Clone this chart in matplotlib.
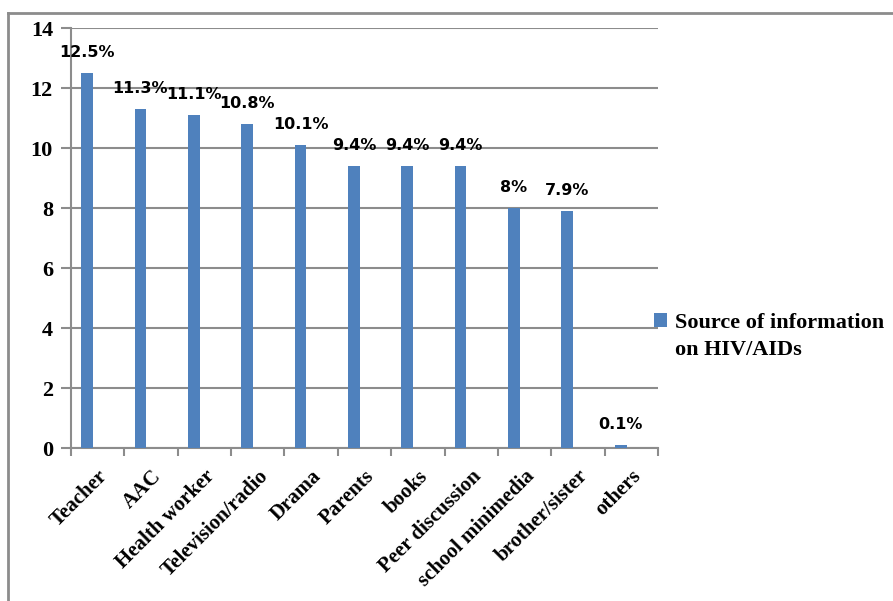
import matplotlib.pyplot as plt
from matplotlib.lines import Line2D
import numpy as np

categorias = ['Teacher', 'AAC', 'Health worker', 'Television/radio', 'Drama',
              'Parents', 'books', 'Peer discussion', 'school minimedia',
              'brother/sister', 'others']
valores = [12.5, 11.3, 11.1, 10.8, 10.1, 9.4, 9.4, 9.4, 8.0, 7.9, 0.1]
etiquetas = ['12.5%', '11.3%', '11.1%', '10.8%', '10.1%', '9.4%', '9.4%',
             '9.4%', '8%', '7.9%', '0.1%']
serie = ['Source of information', 'on HIV/AIDs']

azul = '#4f81bd'
gris = '#8c8c8c'
serif = 'Liberation Serif'

fig = plt.figure(figsize=(8.93, 6.01), dpi=100)
ax = fig.add_axes([71/893, 1 - 448/601, 587/893, 420/601])

x = np.arange(len(categorias))
ax.bar(x - 0.2, valores, width=0.22, color=azul, label=serie[0], zorder=3)

for xi, v, t in zip(x, valores, etiquetas):
    ax.annotate(t, (xi - 0.2, v), xytext=(0, 15), textcoords='offset points',
                ha='center', va='center', fontsize=11.5, fontweight='bold',
                family='DejaVu Sans')

ax.set_xlim(-0.5, len(categorias) - 0.5)
ax.set_ylim(0, 14)
ax.set_yticks(np.arange(0, 15, 2))
ax.yaxis.grid(True, color=gris, linewidth=1.5, zorder=0)
ax.set_axisbelow(True)

# ticks at category boundaries, labels at centers
ax.set_xticks(np.arange(-0.5, len(categorias), 1))
ax.set_xticklabels([])
ax.set_xticks(x, minor=True)
ax.set_xticklabels(categorias, minor=True, rotation=45, ha='right',
                   va='top', rotation_mode='anchor', fontsize=15,
                   fontweight='bold', family=serif)
ax.tick_params(axis='x', which='minor', length=0, pad=13)
ax.tick_params(axis='x', which='major', length=6, width=1.5, color=gris)
ax.tick_params(axis='y', length=7, width=1.5, color=gris, pad=6)
for lbl in ax.get_yticklabels():
    lbl.set_fontsize(16)
    lbl.set_fontweight('bold')
    lbl.set_family(serif)

for s in ['top', 'right']:
    ax.spines[s].set_visible(False)
for s in ['left', 'bottom']:
    ax.spines[s].set_color(gris)
    ax.spines[s].set_linewidth(1.5)

# legend: square next to first line, second line below
fuente = {'family': serif, 'weight': 'bold', 'size': 16}
leg = fig.legend(loc='center left', bbox_to_anchor=(654/893, 1 - 323/601),
                 frameon=False, handlelength=0.6, handleheight=0.6,
                 handletextpad=0.35, borderpad=0, borderaxespad=0,
                 prop=fuente)
fig.canvas.draw()
x0 = leg.get_texts()[0].get_window_extent().x0 / fig.bbox.width
fig.text(x0, 1 - 350/601, serie[1], ha='left', va='center', **fuente)

# chart border
fig.add_artist(Line2D([8/893, 8/893], [0, 1 - 13/601], color=gris,
                      linewidth=2, transform=fig.transFigure))
fig.add_artist(Line2D([8/893, 1], [1 - 13/601, 1 - 13/601], color=gris,
                      linewidth=2, transform=fig.transFigure))

fig.savefig('out.png', dpi=100)
